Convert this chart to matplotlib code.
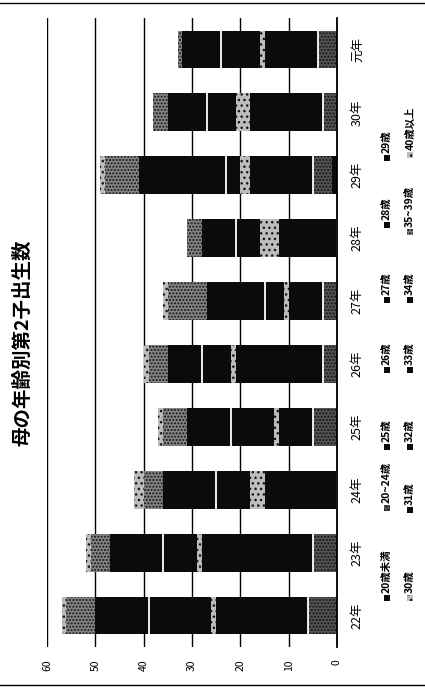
import matplotlib
matplotlib.use('Agg')
import matplotlib.pyplot as plt
from matplotlib.patches import Rectangle
from matplotlib.lines import Line2D
import numpy as np

plt.rcParams['font.family'] = ['Noto Sans CJK JP', 'DejaVu Sans']

# data (births per mother's age group, 22年 .. 元年)
years = ['22年', '23年', '24年', '25年', '26年', '27年', '28年', '29年', '30年', '元年']
age_labels = ['20歳未満', '20~24歳', '25歳', '26歳', '27歳', '28歳', '29歳',
              '30歳', '31歳', '32歳', '33歳', '34歳', '35~39歳', '40歳以上']
u20 = [0, 0, 0, 0, 0, 0, 0, 1, 0, 0]
a20_24 = [6, 5, 0, 5, 3, 3, 0, 4, 3, 4]
a25 = [3, 4, 3, 1, 3, 1, 2, 2, 3, 2]
a26 = [4, 5, 3, 1, 4, 2, 3, 3, 3, 2]
a27 = [4, 5, 3, 2, 4, 1, 2, 3, 3, 2]
a28 = [4, 4, 3, 1, 3, 2, 3, 2, 3, 3]
a29 = [4, 5, 3, 2, 4, 1, 2, 3, 3, 2]
a30 = [1, 1, 3, 1, 1, 1, 4, 2, 3, 1]
a31 = [7, 4, 4, 5, 3, 2, 3, 2, 3, 4]
a32 = [6, 3, 3, 4, 3, 2, 2, 1, 3, 4]
a33 = [6, 6, 6, 5, 4, 6, 4, 9, 4, 4]
a34 = [5, 5, 5, 4, 3, 6, 3, 9, 4, 4]
a35_39 = [6, 4, 4, 5, 4, 8, 3, 7, 3, 1]
a40 = [1, 1, 2, 1, 1, 1, 0, 1, 0, 0]
series = [u20, a20_24, a25, a26, a27, a28, a29, a30, a31, a32, a33, a34, a35_39, a40]

# styles: (face, hatch)
BLK = '#0b0b0b'
styles = [(BLK, None), ('#555555', '.....'), (BLK, None), (BLK, None), (BLK, None),
          (BLK, None), (BLK, None), ('#bdbdbd', '...'), (BLK, None), (BLK, None),
          (BLK, None), (BLK, None), ('#858585', '.....'), ('#bcbcbc', '...')]
sep_after = {1, 9}   # white line after 20~24歳 and 32歳

W, H = 425, 688
fig = plt.figure(figsize=(W / 100, H / 100), dpi=100)
ax = fig.add_axes([47 / W, 1 - 647 / H, 290 / W, 629 / H])

y = np.arange(len(years))
bh = 0.6
left = np.zeros(len(years))
for i, (vals, (fc, hatch)) in enumerate(zip(series, styles)):
    vals = np.array(vals, dtype=float)
    ax.barh(y, vals, left=left, height=bh, color=fc, hatch=hatch,
            edgecolor='#151515' if hatch else fc, linewidth=0, zorder=3)
    left = left + vals
    if i in sep_after:
        ax.vlines(left, y - bh / 2, y + bh / 2, color='white', lw=1.3, zorder=4)

ax.set_xlim(60, 0)
ax.set_ylim(-0.5, len(years) - 0.5)
ax.set_xticks(range(0, 61, 10))
ax.set_xticklabels([str(v) for v in range(0, 61, 10)], rotation=90, fontsize=7.5)
ax.tick_params(axis='x', length=0, pad=9)
ax.grid(axis='x', color='black', lw=1.0, zorder=0)
ax.yaxis.tick_right()
ax.set_yticks(y)
ax.set_yticklabels(years, rotation=90, va='center', fontsize=9)
ax.tick_params(axis='y', length=0, pad=10)
for s in ['top', 'bottom', 'left']:
    ax.spines[s].set_visible(False)
ax.spines['right'].set_linewidth(1.3)
ax.spines['right'].set_zorder(5)

fig.text(23 / W, 1 - 343 / H, '母の年齢別第2子出生数', rotation=90, ha='center',
         va='center', fontsize=14, fontweight='bold')

# legend in two rows
row_x = [387, 410]
row_y = [[598, 508, 447, 370, 300, 225, 158], [598, 510, 447, 370, 300, 232, 155]]
for k, (lab, (fc, hatch)) in enumerate(zip(age_labels, styles)):
    r, c = divmod(k, 7)
    xm, ym = row_x[r], row_y[r][c]
    fig.add_artist(Rectangle(((xm - 3) / W, 1 - (ym + 3) / H), 6 / W, 6 / H,
                             transform=fig.transFigure, facecolor=fc, hatch=hatch,
                             edgecolor='#151515' if hatch else fc, linewidth=0))
    fig.text(xm / W, 1 - (ym - 5) / H, lab, rotation=90, ha='center', va='bottom',
             fontsize=7.5, fontweight='bold')

for py in [3, 685]:
    fig.add_artist(Line2D([0, 1], [1 - py / H, 1 - py / H], color='black', lw=1,
                          transform=fig.transFigure))

fig.savefig('out.png', dpi=100)
